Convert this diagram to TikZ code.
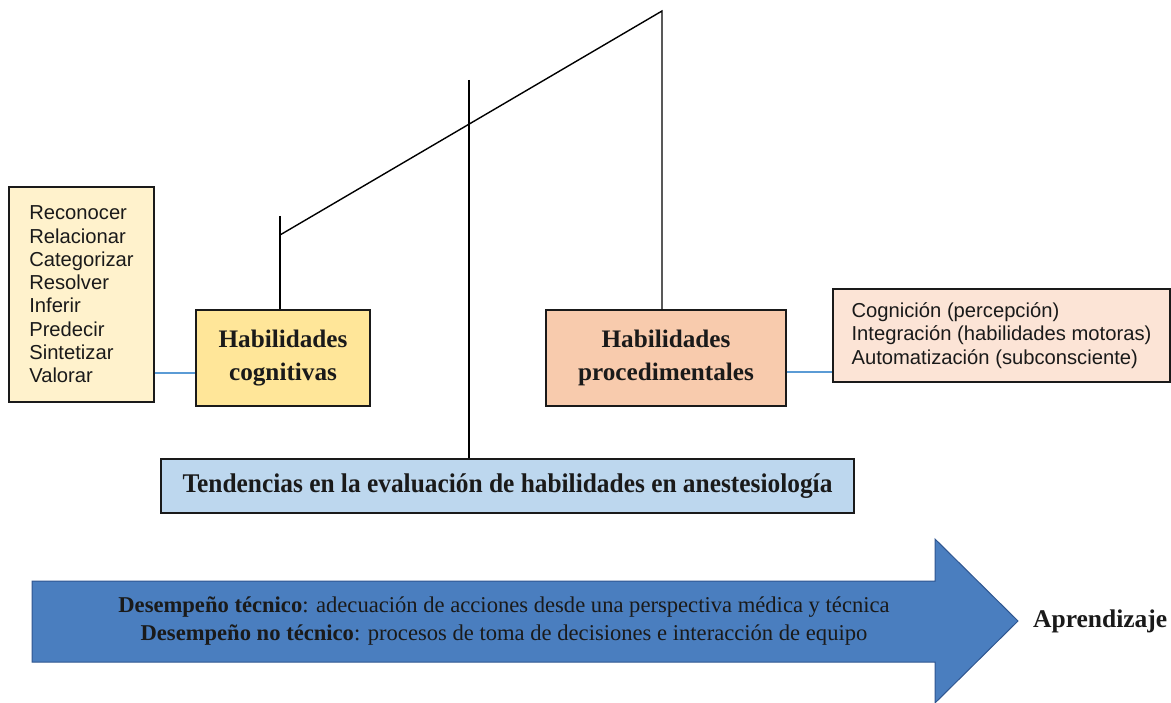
\documentclass[tikz,border=0pt]{standalone}
\usepackage{fontspec}
\setmainfont{Liberation Serif}
\setsansfont{Liberation Sans}
\definecolor{listA}{HTML}{FFF2CC}
\definecolor{cogc}{HTML}{FFE699}
\definecolor{procc}{HTML}{F8CBAD}
\definecolor{listB}{HTML}{FCE4D6}
\definecolor{tendc}{HTML}{BDD7EE}
\definecolor{arrowfill}{HTML}{4A7EBF}
\definecolor{arrowedge}{HTML}{2F5690}
\definecolor{linkblue}{HTML}{5B9BD5}
\definecolor{ink}{HTML}{1A1A1A}
\tikzset{
  box/.style={draw=ink, line width=1.4pt, inner sep=0pt},
  listbox/.style={box, align=left, font=\sffamily\fontsize{20.2}{23.3}\selectfont, text=ink},
  mainbox/.style={box, align=center, font=\bfseries\fontsize{25.2}{33}\selectfont, text=ink},
  conn/.style={draw=black, line width=1.4pt},
  bluelink/.style={draw=linkblue, line width=1.2pt}
}
\begin{document}
\begin{tikzpicture}[x=1pt,y=-1pt]
\path[use as bounding box] (0,0) rectangle (1171,703);
% boxes
\node[listbox, fill=listA, minimum width=145, minimum height=215] (list1) at (81.5,294.5)
  {Reconocer\\Relacionar\\Categorizar\\Resolver\\Inferir\\Predecir\\Sintetizar\\Valorar};
\node[mainbox, fill=cogc, minimum width=174, minimum height=96] (cog) at (283,358)
  {Habilidades\\cognitivas};
\node[mainbox, fill=procc, minimum width=240, minimum height=96] (proc) at (666,358)
  {Habilidades\\procedimentales};
\node[listbox, fill=listB, minimum width=337, minimum height=93] (list2) at (1001.5,335.5)
  {Cognición (percepción)\\Integración (habilidades motoras)\\Automatización (subconsciente)};
\node[box, fill=tendc, minimum width=693, minimum height=54, text=ink] (tend) at (507.5,486)
  {\scalebox{0.94}[1]{\bfseries\fontsize{27}{30}\selectfont Tendencias en la evaluación de habilidades en anestesiología}};
% connectors
\coordinate (c1) at (280,216);
\coordinate (j1) at (280,235);
\coordinate (top) at (662,11);
\coordinate (ctop) at (469,80);
\draw[conn] (c1) -- (c1 |- cog.north);
\draw[conn] (j1) -- (top) -- (top |- proc.north);
\draw[conn] (ctop) -- (ctop |- tend.north);
\draw[bluelink] (list1.east |- 0,373) -- (cog.west |- 0,373);
\draw[bluelink] (proc.east |- 0,372) -- (list2.west |- 0,372);
% big arrow
\coordinate (a1) at (32,581);
\coordinate (a2) at (935,581);
\coordinate (a3) at (935,539);
\coordinate (tip) at (1018,621);
\coordinate (a5) at (935,703);
\coordinate (a6) at (935,662);
\coordinate (a7) at (32,662);
\draw[fill=arrowfill, draw=arrowedge, line width=1pt, line join=miter] (a1) -- (a2) -- (a3) -- (tip) -- (a5) -- (a6) -- (a7) -- cycle;
\node[align=center, text=ink, font=\fontsize{22.6}{28}\selectfont] (desc) at (504,621)
  {\textbf{Desempeño técnico}: adecuación de acciones desde una perspectiva médica y técnica\\
   \textbf{Desempeño no técnico}: procesos de toma de decisiones e interacción de equipo};
\node[anchor=west, text=ink, font=\bfseries\fontsize{25.5}{28}\selectfont, inner sep=0pt] (apr) at (1033,621) {Aprendizaje};
\end{tikzpicture}
\end{document}
